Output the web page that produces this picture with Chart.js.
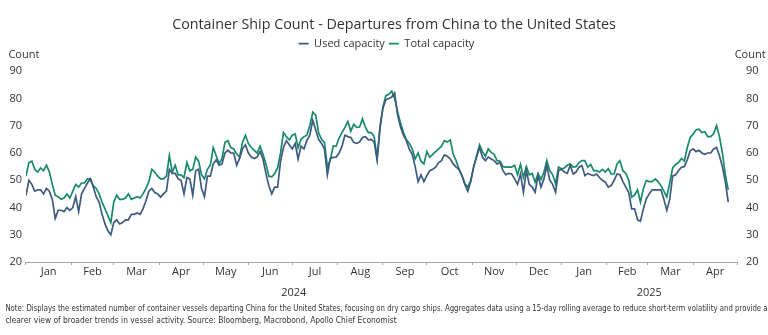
<!DOCTYPE html>
<html><head><meta charset="utf-8">
<script src="https://cdn.jsdelivr.net/npm/chart.js@4.4.1/dist/chart.umd.min.js"></script>
<style>
html,body{margin:0;padding:0;background:#fff;}
#wrap{position:relative;width:768px;height:335px;}
</style></head><body>
<div id="wrap"><canvas id="c" width="768" height="335"></canvas></div>
<script>
const chartTitle = 'Container Ship Count - Departures from China to the United States';
const seriesNames = ['Used capacity', 'Total capacity'];
const axisTitle = 'Count';
const startDate = '2024-01-01';
const stepDays = 2;
const axisEnd = '2025-05-01';
const monthLabels = ['Jan','Feb','Mar','Apr','May','Jun','Jul','Aug','Sep','Oct','Nov','Dec','Jan','Feb','Mar','Apr'];
const yearLabels = ['2024', '2025'];
const yMin = 20, yMax = 90, yStep = 10;

// values every 2 days from 2024-01-01
const usedCapacity = [
44.4,50,48.5,46,46.5,46.5,45,47,46,43,
36,39,39,38.5,40,39,40,44,38.5,45,
47,49,50.5,47.5,44,42,37.5,34,31.5,30,
34.5,35.5,34,34.5,35.5,35.5,37.5,37.5,38,37.5,
39.5,42.5,46,47,45.5,45,43.8,45,46,54,
52.5,52.5,50.5,50,45,51,50.5,44.5,53.5,54,
47,44,51.5,51.5,56,57.5,55.5,56,60,61,
60,60,55.5,58,61.5,63,60,58.5,58,58.5,
60.5,57.8,52.5,48,45,47.5,47.5,57,62,64.5,
63,61.5,63.5,57.8,62.5,61.5,64.5,66.5,72,68.5,
65,63.5,61.5,52,58,58.4,58.5,60,62.5,66.5,
66,65.7,63.9,63.5,64,65.7,66,64.8,65,64,
57.5,69.4,76.5,79.5,80,80.5,82,74,69.5,66.5,
64.5,61.4,59.5,55,49.5,52,49.5,51.7,53.5,54,
54.8,56.5,57.2,59.3,58.8,57.8,56,54.8,54,51.7,
48.5,46,49.5,55,58.5,62,58.5,57.2,58.5,57.8,
57.2,56,56.5,53.5,52,52.5,52.3,50.5,48.5,52.3,
45.6,53.5,48.5,47.5,45.6,51.7,47.5,50.5,55.4,50,
48.5,45.6,53.5,54,53,52.5,55.5,52.3,53,54.8,
55.4,51.7,52.5,52,51.7,52.3,51,50,49.3,47.5,
48,50,52.3,52,49.5,47.5,45.5,39.5,39.5,35.5,
35,39.5,43.2,45,46.5,46.5,46.5,46.5,43,39,
43,51.5,52,53.5,54.8,55,57.5,60.8,61.5,60.5,
61,60,59.5,60,60,61.5,62,59,55,49.5,
42
];
const totalCapacity = [
51.5,56.5,57,54,53,54.5,53.5,55.5,53,48.5,
44.5,44,43,43.5,45,43.5,46,48.5,47.5,49,
49,50.5,50.5,48,47,45,42,39.5,37,34.5,
42,44.5,43,43,43.5,45,43,43.5,44,43.5,
45,47,49.5,54,53,51.5,50.5,50.5,51.5,59,
53,55.5,52,52,51,56.5,53.5,54,58.5,57,
52,50.5,54,55.5,62,59,56,58,63.9,64.5,
62,61.5,59.6,58.5,63.9,66.5,63.5,62,61,60,
62.5,59.5,56,51.5,51.3,52.5,54.5,60,67.5,66,
64.8,66.5,67,62,65,66,66.5,70,75,74,
67.5,65,63.9,55,57.5,62.5,62.5,65.5,67.5,69.4,
71.5,68,70.5,69.4,69.5,72.5,69.5,67.5,67.5,66,
58,69.4,77,81,81.5,82.7,80,75,71,67.5,
64.8,63.5,61.5,57.8,60,57,56,60.5,58.5,59.5,
60.5,61.5,62.5,64.5,64,64.8,59.5,57.2,54,51.7,
48.7,47.5,50,54.8,59,63,60.5,58.8,61.5,60.2,
59.5,57.2,57,55,54.8,54.8,54.8,55.5,52,55.8,
51,55,52,52.5,49.3,52.5,50.3,52.9,57.2,53.5,
52,48.7,54.8,54.2,54.5,55.5,56,54.8,55,56.5,
57.2,57.2,54.8,55.8,53.5,53.5,53,54,53,54.2,
52.3,52.3,56,57.2,53.5,52.5,50,43.8,44.5,46.5,
42,47,49.9,49.5,49.5,50.5,49.5,48,46,43.8,
49,54.5,55.8,56.5,58,57,62,65.7,66.9,68.5,
68.7,67.5,67.8,66,66,67,70,66,60,52,
46.5
];
const noteLines = [
'Note: Displays the estimated number of container vessels departing China for the United States, focusing on dry cargo ships. Aggregates data using a 15-day rolling average to reduce short-term volatility and provide a',
'clearer view of broader trends in vessel activity. Source: Bloomberg, Macrobond, Apollo Chief Economist'
];

const COLORS = { used: '#3d5a80', total: '#178a6a', text: '#333333', axis: '#a6a6a6' };
const FONT = "'Open Sans', 'Noto Sans', sans-serif";
const NOTE_FONT = "'Liberation Sans Narrow', 'DejaVu Sans Condensed', sans-serif";

const dayMs = 864e5;
const t0 = Date.parse(startDate);
const xMax = (Date.parse(axisEnd) - t0) / dayMs;
const monthStarts = monthLabels.map((_, i) => (Date.UTC(2024, i, 1) - t0) / dayMs).concat([xMax]);
const monthMids = monthLabels.map((_, i) => (monthStarts[i] + monthStarts[i + 1]) / 2);
const yearStarts = [0, (Date.UTC(2025, 0, 1) - t0) / dayMs, xMax];
const yearMids = yearLabels.map((_, i) => (yearStarts[i] + yearStarts[i + 1]) / 2);
const monthLabelAt = new Map(monthMids.map((v, i) => [v, monthLabels[i]]));
const toPts = arr => arr.map((v, i) => ({ x: i * stepDays, y: v }));

const countPlugin = {
  id: 'countTitles',
  afterLayout(chart) {
    if (chart.titleBlock) { chart.titleBlock.left += 15; }
  },
  afterDraw(chart) {
    const { ctx, chartArea } = chart;
    const yl = chart.scales.y, yr = chart.scales.y2;
    ctx.save();
    ctx.font = "11px " + FONT;
    ctx.fillStyle = COLORS.text;
    ctx.textBaseline = 'middle';
    ctx.textAlign = 'left';
    ctx.fillText(axisTitle, yl.left + 3, chartArea.top - 16);
    ctx.textAlign = 'right';
    ctx.fillText(axisTitle, yr.right - 2, chartArea.top - 16);
    ctx.restore();
  }
};
const legendSpace = {
  id: 'legendSpace',
  beforeInit(chart) {
    const fit = chart.legend.fit;
    chart.legend.fit = function () { fit.bind(chart.legend)(); this.height += 12; };
  }
};

new Chart(document.getElementById('c'), {
  type: 'line',
  data: {
    datasets: [
      { label: seriesNames[0], data: toPts(usedCapacity), borderColor: COLORS.used, backgroundColor: COLORS.used, borderWidth: 1.7, pointRadius: 0, tension: 0, xAxisID: 'x', yAxisID: 'y' },
      { label: seriesNames[1], data: toPts(totalCapacity), borderColor: COLORS.total, backgroundColor: COLORS.total, borderWidth: 1.7, pointRadius: 0, tension: 0, xAxisID: 'x', yAxisID: 'y' }
    ]
  },
  options: {
    responsive: false,
    animation: false,
    devicePixelRatio: 1,
    layout: { padding: { top: 16, left: 5.4, right: 0.4, bottom: 8.4 } },
    plugins: {
      title: { display: true, text: chartTitle, color: COLORS.text, font: { family: FONT, size: 14.3, weight: 'normal', lineHeight: 1.2 }, padding: { top: 0, bottom: 1 } },
      subtitle: { display: true, position: 'bottom', align: 'start', text: noteLines, color: COLORS.text, font: { family: NOTE_FONT, size: 8.35, lineHeight: 1.42 }, padding: { top: -4, bottom: 0 } },
      legend: {
        position: 'top',
        labels: { usePointStyle: true, pointStyle: 'line', pointStyleWidth: 10, color: COLORS.text, font: { family: FONT, size: 11 }, padding: 4 }
      },
      tooltip: { enabled: false }
    },
    scales: {
      x: {
        type: 'linear', position: 'bottom', min: 0, max: xMax,
        afterBuildTicks: s => { s.ticks = monthStarts.concat(monthMids).sort((a, b) => a - b).map(v => ({ value: v })); },
        ticks: { autoSkip: false, maxRotation: 0, padding: 0.5, color: COLORS.text, font: { family: FONT, size: 11, lineHeight: 1.2 }, callback: v => monthLabelAt.get(v) || '' },
        grid: { display: true, drawOnChartArea: false, drawTicks: true, tickLength: 3, color: c => (c.tick && monthLabelAt.has(c.tick.value)) ? 'rgba(0,0,0,0)' : COLORS.axis },
        border: { display: true, color: COLORS.axis, width: 1 }
      },
      xYear: {
        type: 'linear', position: 'bottom', min: 0, max: xMax,
        afterBuildTicks: s => { s.ticks = yearMids.map(v => ({ value: v })); },
        ticks: { autoSkip: false, maxRotation: 0, padding: 7.2, color: COLORS.text, font: { family: FONT, size: 11, lineHeight: 1.2 }, callback: (v, i) => yearLabels[i] },
        grid: { display: false, drawTicks: false }, border: { display: false }
      },
      y: {
        type: 'linear', position: 'left', min: yMin, max: yMax,
        ticks: { stepSize: yStep, padding: 4, color: COLORS.text, font: { family: FONT, size: 11 } },
        grid: { display: false, drawTicks: false }, border: { display: false }
      },
      y2: {
        type: 'linear', position: 'right', min: yMin, max: yMax,
        ticks: { stepSize: yStep, padding: 9, color: COLORS.text, font: { family: FONT, size: 11 } },
        grid: { display: false, drawTicks: false }, border: { display: false }
      }
    }
  },
  plugins: [countPlugin, legendSpace]
});
</script>
</body></html>
